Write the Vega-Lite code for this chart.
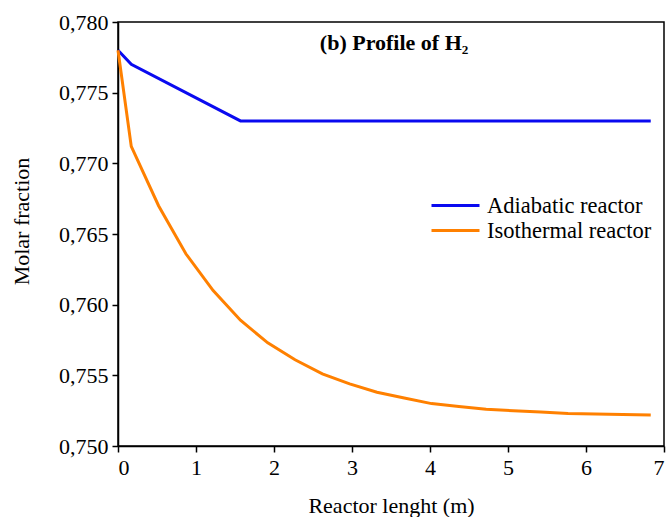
{
  "$schema": "https://vega.github.io/schema/vega-lite/v6.json",
  "autosize": {"type": "none"},
  "width": 546,
  "height": 424,
  "padding": {"left": 118, "top": 22, "right": 3, "bottom": 71},
  "background": "white",
  "config": {
    "view": {"stroke": "black", "strokeWidth": 1.5},
    "font": "Liberation Serif",
    "axis": {
      "domainColor": "black", "domainWidth": 1.5, "tickColor": "black", "tickWidth": 1.5, "tickSize": 6,
      "labelFont": "Liberation Serif", "labelFontSize": 22, "labelColor": "black",
      "titleFont": "Liberation Serif", "titleFontSize": 22, "titleFontWeight": "normal", "titleColor": "black",
      "grid": false
    },
    "legend": {"labelFont": "Liberation Serif", "labelFontSize": 22.5, "labelColor": "black", "labelLimit": 400}
  },
  "datasets": {
    "curves": [
      {"x": 0, "y": 0.778, "series": "Adiabatic reactor"},
      {"x": 0.17, "y": 0.777, "series": "Adiabatic reactor"},
      {"x": 1.57, "y": 0.773, "series": "Adiabatic reactor"},
      {"x": 6.83, "y": 0.773, "series": "Adiabatic reactor"},
      {"x": 0, "y": 0.778, "series": "Isothermal reactor"},
      {"x": 0.17, "y": 0.7712, "series": "Isothermal reactor"},
      {"x": 0.52, "y": 0.7670, "series": "Isothermal reactor"},
      {"x": 0.87, "y": 0.7636, "series": "Isothermal reactor"},
      {"x": 1.22, "y": 0.7610, "series": "Isothermal reactor"},
      {"x": 1.57, "y": 0.7589, "series": "Isothermal reactor"},
      {"x": 1.92, "y": 0.7573, "series": "Isothermal reactor"},
      {"x": 2.27, "y": 0.7561, "series": "Isothermal reactor"},
      {"x": 2.62, "y": 0.7551, "series": "Isothermal reactor"},
      {"x": 2.97, "y": 0.7544, "series": "Isothermal reactor"},
      {"x": 3.32, "y": 0.7538, "series": "Isothermal reactor"},
      {"x": 3.67, "y": 0.7534, "series": "Isothermal reactor"},
      {"x": 4.02, "y": 0.7530, "series": "Isothermal reactor"},
      {"x": 4.37, "y": 0.7528, "series": "Isothermal reactor"},
      {"x": 4.72, "y": 0.7526, "series": "Isothermal reactor"},
      {"x": 5.07, "y": 0.7525, "series": "Isothermal reactor"},
      {"x": 5.42, "y": 0.7524, "series": "Isothermal reactor"},
      {"x": 5.77, "y": 0.7523, "series": "Isothermal reactor"},
      {"x": 6.12, "y": 0.75226, "series": "Isothermal reactor"},
      {"x": 6.47, "y": 0.75223, "series": "Isothermal reactor"},
      {"x": 6.83, "y": 0.7522, "series": "Isothermal reactor"}
    ],
    "label": [{"x": 3.54, "y": 0.7785, "text": "(b) Profile of H₂"}]
  },
  "layer": [
    {
      "data": {"name": "curves"},
      "mark": {"type": "line", "strokeWidth": 3},
      "encoding": {
        "x": {"field": "x", "type": "quantitative", "scale": {"domain": [0, 7], "nice": false},
          "axis": {"values": [0,1,2,3,4,5,6,7], "format": "d", "title": "Reactor lenght (m)", "labelPadding": 5, "titlePadding": 17}},
        "y": {"field": "y", "type": "quantitative", "scale": {"domain": [0.75, 0.78], "nice": false, "zero": false},
          "axis": {"values": [0.75,0.755,0.76,0.765,0.77,0.775,0.78], "labelExpr": "replace(format(datum.value, '.3f'), '.', ',')", "title": "Molar fraction", "labelPadding": 4, "titlePadding": 25, "titleY": 199}},
        "color": {"field": "series", "type": "nominal",
          "scale": {"domain": ["Adiabatic reactor", "Isothermal reactor"], "range": ["#0a0af0", "#ff8000"]},
          "legend": {"title": null, "orient": "none", "legendX": 324, "legendY": 170, "symbolType": "M-2,0L2,0", "symbolSize": 576, "symbolStrokeWidth": 3, "labelOffset": 18, "rowPadding": 0}}
      }
    },
    {
      "data": {"name": "label"},
      "mark": {"type": "text", "fontWeight": "bold", "fontSize": 22, "font": "Liberation Serif", "color": "black"},
      "encoding": {
        "x": {"field": "x", "type": "quantitative"},
        "y": {"field": "y", "type": "quantitative"},
        "text": {"field": "text"}
      }
    }
  ]
}
